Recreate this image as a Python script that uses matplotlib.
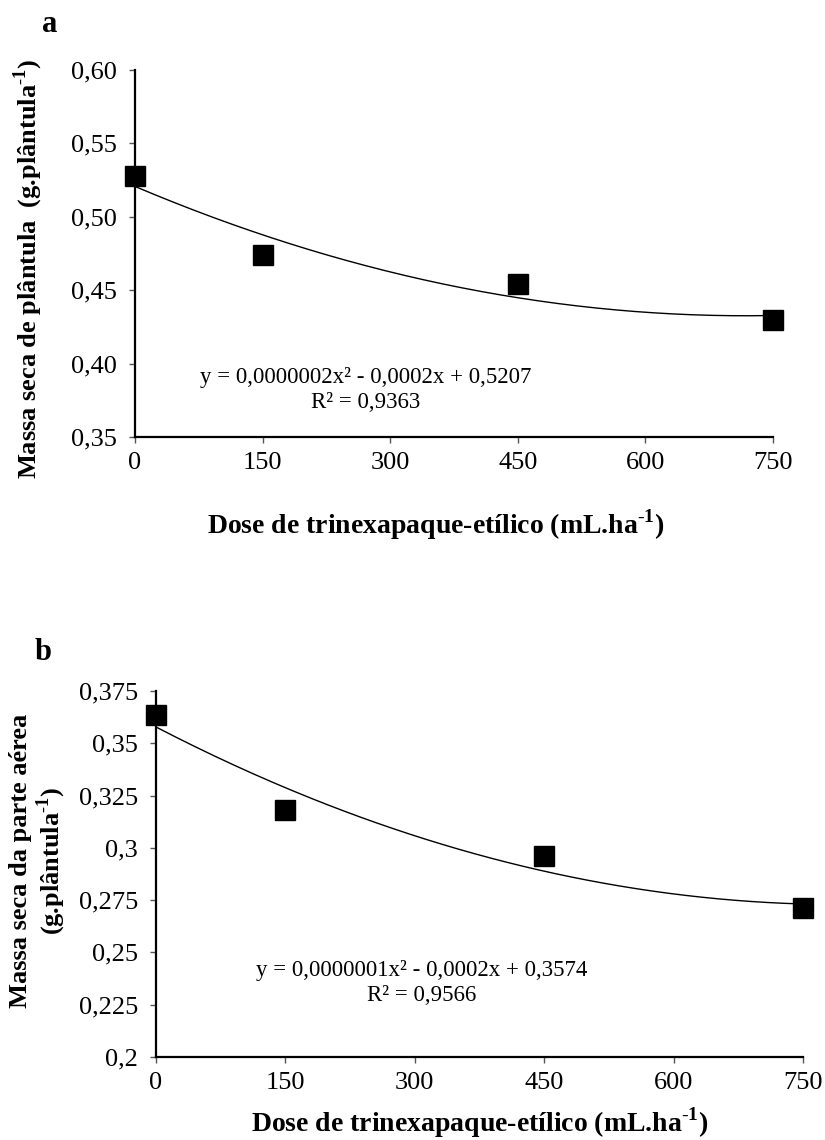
import matplotlib
matplotlib.use("Agg")
import matplotlib.pyplot as plt
import numpy as np

plt.rcParams['font.family'] = ['Liberation Serif', 'DejaVu Serif']
plt.rcParams['mathtext.fontset'] = 'custom'
plt.rcParams['mathtext.rm'] = 'Liberation Serif'
plt.rcParams['mathtext.bf'] = 'Liberation Serif:bold'

# ── Dados ─────────────────────────────────────────────────────────────────────
doses = [0, 150, 450, 750]
massa_plantula = [0.528, 0.474, 0.454, 0.430]
massa_aerea = [0.3635, 0.318, 0.296, 0.271]

ticks_x = [0, 150, 300, 450, 600, 750]
ticks_a = [0.35, 0.40, 0.45, 0.50, 0.55, 0.60]
ticks_b = [0.2, 0.225, 0.25, 0.275, 0.3, 0.325, 0.35, 0.375]
labels_a = ['0,35', '0,40', '0,45', '0,50', '0,55', '0,60']
labels_b = ['0,2', '0,225', '0,25', '0,275', '0,3', '0,325', '0,35', '0,375']

eq_a = ['y = 0,0000002x² - 0,0002x + 0,5207', 'R² = 0,9363']
eq_b = ['y = 0,0000001x² - 0,0002x + 0,3574', 'R² = 0,9566']

SUP = r'$^{\text{-}\mathbf{1}}$'
XLABEL = 'Dose de trinexapaque-etílico (mL.ha' + SUP + ')'


def painel(ax, y, ticks_y, labels_y, eq, eq_pos):
    # linha de tendência polinomial (2ª ordem), como no Excel
    coef = np.polyfit(doses, y, 2)
    xs = np.linspace(0, 750, 200)
    ax.plot(xs, np.polyval(coef, xs), color='black', lw=1.0, zorder=2)
    ax.plot(doses, y, 's', color='black', ms=15, clip_on=False, zorder=3)

    ax.set_xlim(0, 750)
    ax.set_ylim(ticks_y[0], ticks_y[-1])
    ax.set_xticks(ticks_x)
    ax.set_xticklabels([str(t) for t in ticks_x])
    ax.set_yticks(ticks_y)
    ax.set_yticklabels(labels_y)
    ax.tick_params(direction='out', length=4, width=1.0, color='#555555',
                   labelsize=19)
    ax.tick_params(axis='x', pad=6.5)
    ax.tick_params(axis='y', pad=9)
    for s in ['top', 'right']:
        ax.spines[s].set_visible(False)
    for s in ['left', 'bottom']:
        ax.spines[s].set_linewidth(1.6)

    x0, y1, y2 = eq_pos
    ax.text(x0, y1, eq[0], transform=ax.transAxes, ha='center', va='center', fontsize=16.5)
    ax.text(x0, y2, eq[1], transform=ax.transAxes, ha='center', va='center', fontsize=16.5)


fig = plt.figure(figsize=(8.25, 11.4), dpi=100)

ax_a = fig.add_axes([0.1636, 0.6167, 0.7733, 0.3219])
painel(ax_a, massa_plantula, ticks_a, labels_a, eq_a, (0.362, 0.161, 0.093))
ax_a.set_ylabel('Massa seca de plântula  (g.plântula' + SUP + ')',
                fontsize=19, fontweight='bold', va='center')
ax_a.yaxis.set_label_coords(-0.168, 0.458)
ax_a.set_xlabel(XLABEL, fontsize=20, fontweight='bold', va='center')
ax_a.xaxis.set_label_coords(0.472, -0.24)

ax_b = fig.add_axes([0.1891, 0.0728, 0.7842, 0.3211])
painel(ax_b, massa_aerea, ticks_b, labels_b, eq_b, (0.41, 0.236, 0.169))
ax_b.set_ylabel('Massa seca da parte aérea\n(g.plântula' + SUP + ')',
                fontsize=19, fontweight='bold', linespacing=1.1, va='center')
ax_b.yaxis.set_label_coords(-0.182, 0.535)
ax_b.set_xlabel(XLABEL, fontsize=20, fontweight='bold', va='center')
ax_b.xaxis.set_label_coords(0.5, -0.18)

fig.text(50 / 825, 1 - 25 / 1140, 'a', fontsize=22, fontweight='bold', ha='center', va='center')
fig.text(43 / 825, 1 - 653 / 1140, 'b', fontsize=22, fontweight='bold', ha='center', va='center')

fig.savefig('out.png', dpi=100)
